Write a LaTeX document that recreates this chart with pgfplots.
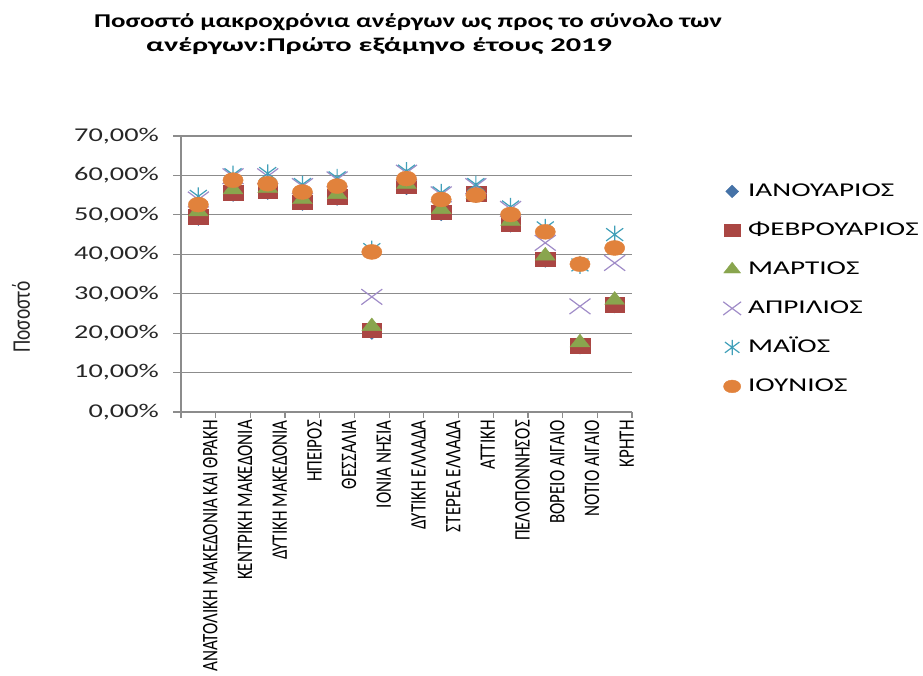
\documentclass[border=0pt]{standalone}
\usepackage{graphicx}
\usepackage{fontspec}
\setmainfont{Carlito}
\newfontfamily\wide[FakeStretch=1.45]{Carlito}
\newfontfamily\widelg[FakeStretch=1.5]{Carlito}
\newfontfamily\widetitle[FakeStretch=1.38]{Carlito}
\usepackage{pgfplots}
\pgfplotsset{compat=1.18}
\usepackage{pgfplotstable}

\definecolor{cblue}{RGB}{69,114,167}
\definecolor{cred}{RGB}{170,70,67}
\definecolor{cgreen}{RGB}{137,165,78}
\definecolor{cpurple}{RGB}{160,140,200}
\definecolor{caqua}{RGB}{65,160,185}
\definecolor{corange}{RGB}{225,130,60}
\definecolor{gridgray}{RGB}{140,140,140}

\pgfdeclareplotmark{xstar}{%
  \pgfpathmoveto{\pgfqpoint{0pt}{-\pgfplotmarksize}}%
  \pgfpathlineto{\pgfqpoint{0pt}{\pgfplotmarksize}}%
  \pgfpathmoveto{\pgfqpoint{-.7\pgfplotmarksize}{-.7\pgfplotmarksize}}%
  \pgfpathlineto{\pgfqpoint{.7\pgfplotmarksize}{.7\pgfplotmarksize}}%
  \pgfpathmoveto{\pgfqpoint{-.7\pgfplotmarksize}{.7\pgfplotmarksize}}%
  \pgfpathlineto{\pgfqpoint{.7\pgfplotmarksize}{-.7\pgfplotmarksize}}%
  \pgfusepathqstroke}

\newcommand{\cl}[1]{\scalebox{1}[1.3]{#1}}

\pgfplotstableread{
x  jan  feb  mar  apr  may  jun
0  49.2 49.6 50.8 53.9 54.7 52.6
1  55.3 55.6 56.4 59.8 60.2 58.8
2  55.8 56.0 56.8 59.8 60.5 57.9
3  53.0 53.2 53.9 57.3 57.7 55.8
4  54.3 54.6 55.2 59.0 59.4 57.3
5  20.3 20.7 21.7 29.2 41.2 40.6
6  57.0 57.3 57.8 60.7 61.1 59.2
7  50.4 50.7 51.4 55.2 55.6 53.9
8  55.0 55.3 55.2 57.3 57.7 55.0
9  47.5 47.8 48.4 51.5 52.0 50.1
10 38.6 38.8 39.6 42.9 46.7 45.7
11 16.6 16.8 17.6 26.8 37.3 37.5
12 27.0 27.2 28.4 37.8 45.0 41.6
}\datatable

\begin{document}
\begin{tikzpicture}
\begin{axis}[
  at={(181pt,263pt)}, anchor=south west,
  scale only axis, width=451pt, height=276pt,
  xmin=-0.5, xmax=12.5, ymin=0, ymax=70,
  axis lines*=left, axis line style={gridgray, line width=1.2pt, -},
  ymajorgrids, grid style={gridgray, line width=1.2pt},
  ytick={0,10,...,70},
  yticklabels={{0,00\%},{10,00\%},{20,00\%},{30,00\%},{40,00\%},{50,00\%},{60,00\%},{70,00\%}},
  yticklabel style={font=\wide\fontsize{19.5}{23}\selectfont, color=black!85, inner sep=0pt, anchor=east, xshift=-14pt},
  tick align=outside,
  major tick length=8pt,
  tick style={gridgray, line width=1.2pt},
  xtick={0,...,12},
  major x tick style={draw=none},
  minor xtick={-0.5,0.5,...,12.5},
  minor tick length=6pt,
  minor tick style={gridgray, line width=1.2pt},
  xticklabels={\cl{ΑΝΑΤΟΛΙΚΗ ΜΑΚΕΔΟΝΙΑ ΚΑΙ ΘΡΑΚΗ},\cl{ΚΕΝΤΡΙΚΗ ΜΑΚΕΔΟΝΙΑ},\cl{ΔΥΤΙΚΗ ΜΑΚΕΔΟΝΙΑ},\cl{ΗΠΕΙΡΟΣ},\cl{ΘΕΣΣΑΛΙΑ},\cl{ΙΟΝΙΑ ΝΗΣΙΑ},\cl{ΔΥΤΙΚΗ ΕΛΛΑΔΑ},\cl{ΣΤΕΡΕΑ ΕΛΛΑΔΑ},\cl{ΑΤΤΙΚΗ},\cl{ΠΕΛΟΠΟΝΝΗΣΟΣ},\cl{ΒΟΡΕΙΟ ΑΙΓΑΙΟ},\cl{ΝΟΤΙΟ ΑΙΓΑΙΟ},\cl{ΚΡΗΤΗ}},
  xticklabel style={rotate=90, anchor=east, inner sep=0pt, font=\fontsize{17}{20}\selectfont, yshift=-12pt},
  legend style={at={(1.2018,0.829)}, anchor=north west, draw=none, fill=none,
    font=\widelg\fontsize{19.5}{22}\selectfont, row sep=23pt, inner sep=0pt,
    nodes={inner sep=0pt, text height=13pt, text depth=3pt},
    /tikz/every odd column/.append style={column sep=7pt}},
  legend cell align=left,
  legend image code/.code={\draw[mark repeat=2,mark phase=2,#1, mark options={xscale=1.15, yscale=0.85}] plot coordinates {(0pt,0pt)(9pt,0pt)(18pt,0pt)};},
]
\addplot[only marks, mark=diamond*, mark size=7.5pt, color=cblue, fill=cblue, mark options={xscale=1.35}] table[x=x,y=jan]{\datatable};
\addlegendentry{ΙΑΝΟΥΑΡΙΟΣ}
\addplot[only marks, mark=square*, mark size=7.3pt, color=cred, fill=cred, mark options={xscale=1.35}] table[x=x,y=feb]{\datatable};
\addlegendentry{ΦΕΒΡΟΥΑΡΙΟΣ}
\addplot[only marks, mark=triangle*, mark size=8.5pt, color=cgreen, fill=cgreen, mark options={xscale=1.35}] table[x=x,y=mar]{\datatable};
\addlegendentry{ΜΑΡΤΙΟΣ}
\addplot[only marks, mark=x, mark size=11pt, color=cpurple, line width=1.2pt, mark options={xscale=1.35}] table[x=x,y=apr]{\datatable};
\addlegendentry{ΑΠΡΙΛΙΟΣ}
\addplot[only marks, mark=xstar, mark size=9pt, color=caqua, line width=1.2pt, mark options={xscale=1.35}] table[x=x,y=may]{\datatable};
\addlegendentry{ΜΑΪΟΣ}
\addplot[only marks, mark=*, mark size=7.5pt, color=corange, fill=corange, mark options={xscale=1.35}] table[x=x,y=jun]{\datatable};
\addlegendentry{ΙΟΥΝΙΟΣ}
\end{axis}
\node[anchor=base, font=\widetitle\bfseries\fontsize{19.5}{23}\selectfont] at (408pt,647pt) {Ποσοστό μακροχρόνια ανέργων ως προς το σύνολο των};
\node[anchor=base, font=\widetitle\bfseries\fontsize{19.5}{23}\selectfont] at (379pt,623pt) {\scalebox{1.13}[1]{ανέργων:Πρώτο εξάμηνο έτους 2019}};
\node[rotate=90, inner sep=0pt, font=\fontsize{19.5}{23}\selectfont, color=black!85] at (21pt,358pt) {\cl{Ποσοστό}};
\pgfresetboundingbox
\useasboundingbox (0pt,0pt) rectangle (923pt,675pt);
\end{tikzpicture}
\end{document}
